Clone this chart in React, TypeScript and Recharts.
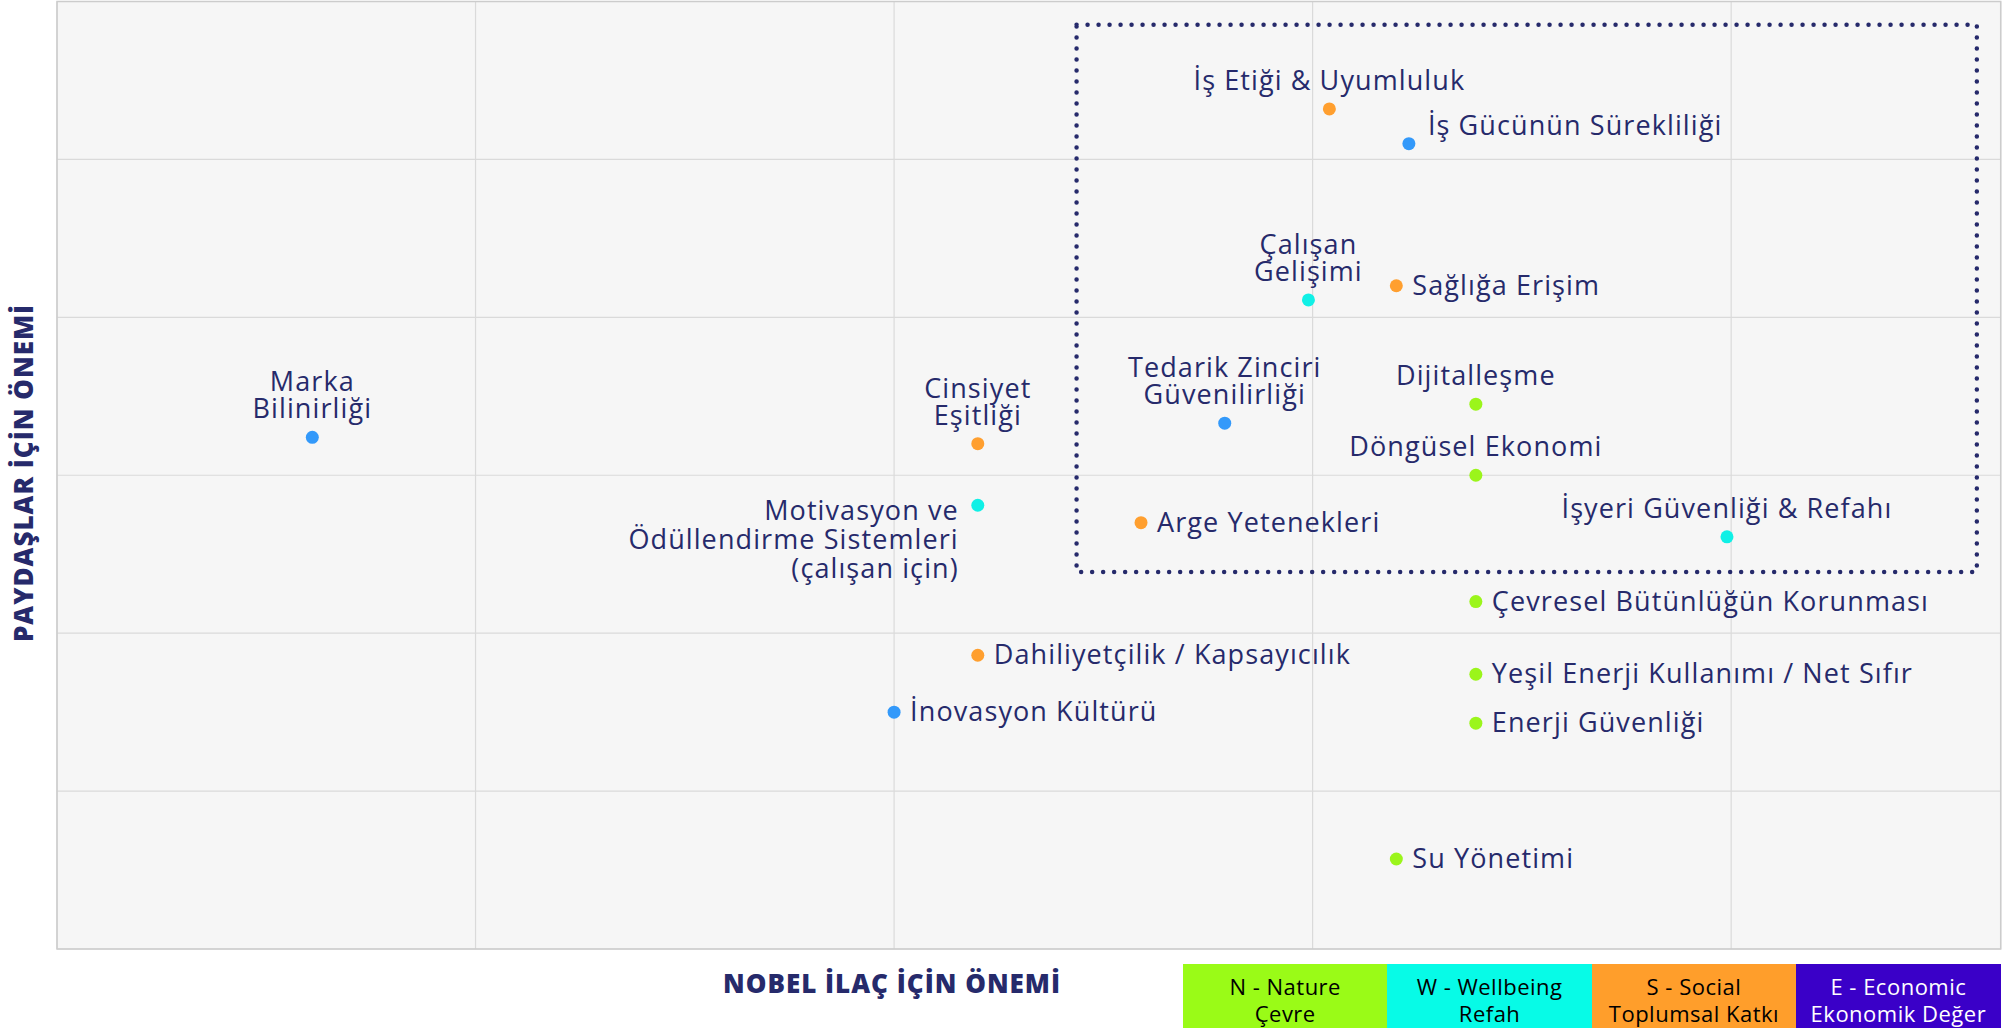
import { ScatterChart, Scatter, XAxis, YAxis, CartesianGrid, ReferenceArea } from 'recharts';

// ---- data ----
const TOPICS = [
  'Marka\nBilinirliği',
  'Cinsiyet\nEşitliği',
  'Motivasyon ve\nÖdüllendirme Sistemleri\n(çalışan için)',
  'İnovasyon Kültürü',
  'Dahiliyetçilik / Kapsayıcılık',
  'Arge Yetenekleri',
  'Tedarik Zinciri\nGüvenilirliği',
  'Çalışan\nGelişimi',
  'Sağlığa Erişim',
  'İş Etiği & Uyumluluk',
  'İş Gücünün Sürekliliği',
  'Dijitalleşme',
  'Döngüsel Ekonomi',
  'İşyeri Güvenliği & Refahı',
  'Çevresel Bütünlüğün Korunması',
  'Yeşil Enerji Kullanımı / Net Sıfır',
  'Enerji Güvenliği',
  'Su Yönetimi',
];
const COMPANY_IMPORTANCE = [0.61, 2.2, 2.2, 2.0, 2.2, 2.59, 2.79, 2.99, 3.2, 3.04, 3.23, 3.39, 3.39, 3.99, 3.39, 3.39, 3.39, 3.2];
const STAKEHOLDER_IMPORTANCE = [3.24, 3.2, 2.81, 1.5, 1.86, 2.7, 3.33, 4.11, 4.2, 5.32, 5.1, 3.45, 3.0, 2.61, 2.2, 1.74, 1.43, 0.57];
const TOPIC_GROUP = ['E', 'S', 'W', 'E', 'S', 'S', 'E', 'W', 'S', 'S', 'E', 'N', 'N', 'W', 'N', 'N', 'N', 'N'];

const GROUPS = ['N', 'W', 'S', 'E'];
const GROUP_LABELS = ['N - Nature\nÇevre', 'W - Wellbeing\nRefah', 'S - Social\nToplumsal Katkı', 'E - Economic\nEkonomik Değer'];

const X_TICKS = [0, 1, 2, 3, 4];
const Y_TICKS = [0, 1, 2, 3, 4, 5, 6];
const X_MAX = 4.644;
const Y_MAX = 6;
// priority zone (dotted box): [x1, x2, y1, y2]
const FOCUS_ZONE = [2.436, 4.587, 2.388, 5.852];

// ---- styling ----
const NAVY = '#262A6B';
const FONT = "'Open Sans', 'Noto Sans', sans-serif";
const DOT_COLORS: Record<string, string> = { N: '#9BF51B', W: '#10F0E6', S: '#FF9F2F', E: '#3399FA' };
const BOX_COLORS: Record<string, string> = { N: '#9AFB17', W: '#07FBE7', S: '#FF9E2B', E: '#3A00C8' };

// label side for each topic (layout only)
const LABEL_SIDE: Record<string, string> = {
  'Motivasyon ve\nÖdüllendirme Sistemleri\n(çalışan için)': 'left',
  'İnovasyon Kültürü': 'right',
  'Dahiliyetçilik / Kapsayıcılık': 'right',
  'Arge Yetenekleri': 'right',
  'Sağlığa Erişim': 'right',
  'İş Gücünün Sürekliliği': 'rightHigh',
  'Çevresel Bütünlüğün Korunması': 'right',
  'Yeşil Enerji Kullanımı / Net Sıfır': 'right',
  'Enerji Güvenliği': 'right',
  'Su Yönetimi': 'right',
};

const points = TOPICS.map((name, i) => ({
  name,
  x: COMPANY_IMPORTANCE[i],
  y: STAKEHOLDER_IMPORTANCE[i],
  group: TOPIC_GROUP[i],
}));

function TopicDot(props: any) {
  const { cx, cy, payload } = props;
  const lines: string[] = payload.name.split('\n');
  const side = LABEL_SIDE[payload.name] || 'top';
  const textStyle = { fontFamily: FONT, fontSize: 27, letterSpacing: 1.1, fill: NAVY };
  let texts;
  if (side === 'top') {
    texts = lines.map((l, i) => (
      <text key={i} x={cx} y={cy - 19 - (lines.length - 1 - i) * 27} textAnchor="middle" {...textStyle}>{l}</text>
    ));
  } else if (side === 'left') {
    texts = lines.map((l, i) => (
      <text key={i} x={cx - 19} y={cy + 15 + i * 29} textAnchor="end" {...textStyle}>{l}</text>
    ));
  } else if (side === 'rightHigh') {
    texts = <text x={cx + 19} y={cy - 9} textAnchor="start" {...textStyle}>{lines[0]}</text>;
  } else {
    texts = <text x={cx + 16} y={cy + 9} textAnchor="start" {...textStyle}>{lines[0]}</text>;
  }
  return (
    <g>
      <circle cx={cx} cy={cy} r={6.5} fill={DOT_COLORS[payload.group]} />
      {texts}
    </g>
  );
}

const titleStyle = {
  position: 'absolute' as const,
  fontFamily: FONT,
  fontWeight: 800,
  fontSize: 26,
  letterSpacing: 1,
  color: NAVY,
  whiteSpace: 'nowrap' as const,
};

export default function App() {
  return (
    <div style={{ position: 'absolute', left: 0, top: 0, width: 2015, height: 1028, background: '#fff' }}>
      <ScatterChart width={2015} height={1028} margin={{ top: 1.5, right: 14.3, bottom: 79, left: 57 }}>
        <CartesianGrid fill="#F6F6F6" stroke="#DADADA" strokeWidth={1.2} />
        <XAxis type="number" dataKey="x" domain={[0, X_MAX]} ticks={X_TICKS} hide />
        <YAxis type="number" dataKey="y" domain={[0, Y_MAX]} ticks={Y_TICKS} hide />
        <ReferenceArea x1={0} x2={X_MAX} y1={0} y2={Y_MAX} fill="none" stroke="#CCCCCC" strokeWidth={1.5} ifOverflow="visible" />
        <ReferenceArea
          x1={FOCUS_ZONE[0]}
          x2={FOCUS_ZONE[1]}
          y1={FOCUS_ZONE[2]}
          y2={FOCUS_ZONE[3]}
          fill="none"
          fillOpacity={0}
          stroke={NAVY}
          strokeWidth={4.5}
          strokeDasharray="0 11"
          strokeLinecap="round"
        />
        {GROUPS.map((g) => (
          <Scatter
            key={g}
            data={points.filter((p) => p.group === g)}
            fill={DOT_COLORS[g]}
            shape={TopicDot}
            isAnimationActive={false}
          />
        ))}
      </ScatterChart>

      {/* axis titles */}
      <div style={{ ...titleStyle, left: 892, top: 983, transform: 'translate(-50%, -50%)' }}>
        NOBEL İLAÇ İÇİN ÖNEMİ
      </div>
      <div style={{ ...titleStyle, left: 23, top: 473, transform: 'translate(-50%, -50%) rotate(-90deg)' }}>
        PAYDAŞLAR İÇİN ÖNEMİ
      </div>

      {/* category legend */}
      <div style={{ position: 'absolute', left: 1183, top: 964, display: 'flex' }}>
        {GROUPS.map((g, i) => (
          <div
            key={g}
            style={{
              width: 204.4, height: 64, background: BOX_COLORS[g], color: g === 'E' ? '#fff' : '#000',
              fontFamily: FONT, fontSize: 22, letterSpacing: 0.5, lineHeight: '27px', textAlign: 'center',
              paddingTop: 9, boxSizing: 'border-box', whiteSpace: 'pre-line',
            }}
          >
            {GROUP_LABELS[i]}
          </div>
        ))}
      </div>
    </div>
  );
}
